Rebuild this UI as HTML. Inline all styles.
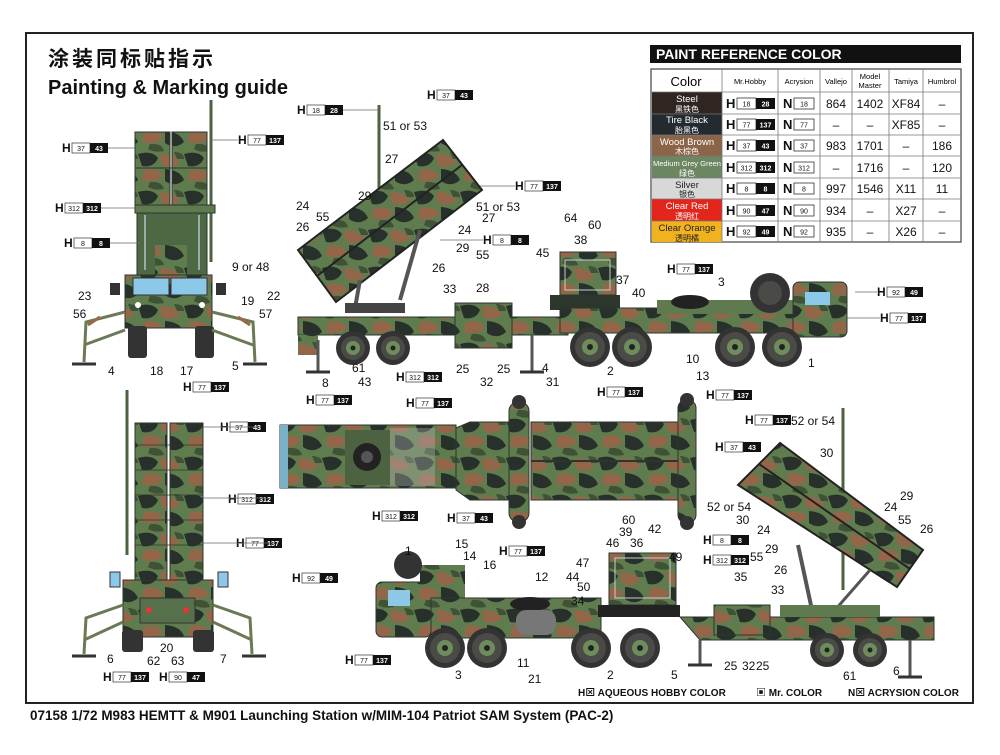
<!DOCTYPE html>
<html><head><meta charset="utf-8">
<style>
html,body{margin:0;padding:0;background:#fff}
body{width:1000px;height:750px;overflow:hidden;position:relative;font-family:"Liberation Sans","Noto Sans CJK SC",sans-serif}
svg text{font-family:"Liberation Sans","Noto Sans CJK SC",sans-serif}
.l{font-size:12px;fill:#111}
.hh{font-size:12px;font-weight:bold;fill:#111}
.s{font-size:7px;fill:#111;text-anchor:middle}
.sw{font-size:7px;fill:#fff;text-anchor:middle;font-weight:bold}
.ld{stroke:#666;stroke-width:0.8;fill:none}
</style></head><body>
<svg width="1000" height="750" viewBox="0 0 1000 750" xmlns="http://www.w3.org/2000/svg">
<defs>
<pattern id="camo" width="46" height="38" patternUnits="userSpaceOnUse">
<rect width="46" height="38" fill="#5f7c4e"/>
<path d="M0 2 Q14 -2 20 6 Q16 16 4 14 Z" fill="#27302a"/>
<path d="M22 2 Q36 2 42 10 Q34 18 24 13 Z" fill="#93664a"/>
<path d="M6 18 Q20 15 25 24 Q17 32 4 28 Z" fill="#93664a"/>
<path d="M27 17 Q42 18 46 28 Q37 36 27 29 Z" fill="#27302a"/>
<path d="M12 30 Q24 29 26 37 Q16 39 10 35 Z" fill="#3f5236"/>
<path d="M36 0 Q46 0 46 7 L39 7 Z" fill="#3f5236"/>
</pattern>
<g id="wh"><circle r="20" fill="#333"/><circle r="15" fill="#4a4a46"/><circle r="8" fill="#6f8c5c"/><circle r="3" fill="#222"/></g>
<g id="ws"><circle r="17" fill="#333"/><circle r="12" fill="#4a4a46"/><circle r="7" fill="#6f8c5c"/><circle r="2.5" fill="#222"/></g>
</defs>

<rect x="26" y="33" width="947" height="670" fill="none" stroke="#222" stroke-width="2"/>
<text x="48" y="66" style="font-size:21px;font-weight:bold;fill:#111;letter-spacing:3px">涂装同标贴指示</text>
<text x="48" y="94" style="font-size:20px;font-weight:bold;fill:#111">Painting &amp; Marking guide</text>

<rect x="650" y="45" width="311" height="18" fill="#111"/>
<text x="656" y="59" style="font-size:14px;font-weight:bold;fill:#fff">PAINT  REFERENCE COLOR</text>
<g font-size="12">
<rect x="651" y="69" width="310" height="173" fill="#fff" stroke="#444" stroke-width="1.2"/>
<rect x="652" y="92" width="70" height="22" fill="#2f2622"/>
<rect x="652" y="114" width="70" height="21" fill="#232a30"/>
<rect x="652" y="135" width="70" height="21" fill="#8c6548"/>
<rect x="652" y="156" width="70" height="22" fill="#6b8660"/>
<rect x="652" y="178" width="70" height="21" fill="#d8d8d8"/>
<rect x="652" y="199" width="70" height="22" fill="#e2261c"/>
<rect x="652" y="221" width="70" height="21" fill="#f0b21e"/>
<g stroke="#777" stroke-width="0.8">
<line x1="651" y1="92" x2="961" y2="92"/><line x1="651" y1="114" x2="961" y2="114"/><line x1="651" y1="135" x2="961" y2="135"/><line x1="651" y1="156" x2="961" y2="156"/><line x1="651" y1="178" x2="961" y2="178"/><line x1="651" y1="199" x2="961" y2="199"/><line x1="651" y1="221" x2="961" y2="221"/>
<line x1="722" y1="69" x2="722" y2="242"/><line x1="778" y1="69" x2="778" y2="242"/><line x1="820" y1="69" x2="820" y2="242"/><line x1="852" y1="69" x2="852" y2="242"/><line x1="889" y1="69" x2="889" y2="242"/><line x1="923" y1="69" x2="923" y2="242"/>
</g>
<text x="686" y="86" text-anchor="middle" style="font-size:13px">Color</text>
<text x="750" y="84" text-anchor="middle" style="font-size:7.5px">Mr.Hobby</text>
<text x="799" y="84" text-anchor="middle" style="font-size:7.5px">Acrysion</text>
<text x="836" y="84" text-anchor="middle" style="font-size:7.5px">Vallejo</text>
<text x="870" y="79" text-anchor="middle" style="font-size:7.5px">Model</text>
<text x="870" y="88" text-anchor="middle" style="font-size:7.5px">Master</text>
<text x="906" y="84" text-anchor="middle" style="font-size:7.5px">Tamiya</text>
<text x="942" y="84" text-anchor="middle" style="font-size:7.5px">Humbrol</text>
<g text-anchor="middle" style="font-size:9.5px" fill="#fff">
<text x="687" y="102">Steel</text><text x="687" y="112" style="font-size:8px">黑铁色</text>
<text x="687" y="123">Tire Black</text><text x="687" y="133" style="font-size:8px">胎黑色</text>
<text x="687" y="145">Wood Brown</text><text x="687" y="154" style="font-size:8px">木棕色</text>
<text x="687" y="166" style="font-size:7.5px">Medium Grey Green</text><text x="687" y="176" style="font-size:8px">绿色</text>
<text x="687" y="188" fill="#222">Silver</text><text x="687" y="197" fill="#222" style="font-size:8px">银色</text>
<text x="687" y="209">Clear Red</text><text x="687" y="219" style="font-size:8px">透明红</text>
<text x="687" y="231" fill="#222">Clear Orange</text><text x="687" y="241" fill="#222" style="font-size:8px">透明橘</text>
</g>
<g text-anchor="middle" style="font-size:12px" fill="#111">
<text x="836" y="108">864</text><text x="870" y="108">1402</text><text x="906" y="108">XF84</text><text x="942" y="108">–</text>
<text x="836" y="129">–</text><text x="870" y="129">–</text><text x="906" y="129">XF85</text><text x="942" y="129">–</text>
<text x="836" y="150">983</text><text x="870" y="150">1701</text><text x="906" y="150">–</text><text x="942" y="150">186</text>
<text x="836" y="172">–</text><text x="870" y="172">1716</text><text x="906" y="172">–</text><text x="942" y="172">120</text>
<text x="836" y="193">997</text><text x="870" y="193">1546</text><text x="906" y="193">X11</text><text x="942" y="193">11</text>
<text x="836" y="215">934</text><text x="870" y="215">–</text><text x="906" y="215">X27</text><text x="942" y="215">–</text>
<text x="836" y="236">935</text><text x="870" y="236">–</text><text x="906" y="236">X26</text><text x="942" y="236">–</text>
</g>
</g>
<g>
<g transform="translate(726,97)"><text x="0" y="11" class="hh" style="font-size:13px">H</text><rect x="11" y="1" width="19" height="11" fill="#fff" stroke="#333" stroke-width=".8"/><text x="20.5" y="9.5" class="s">18</text><rect x="30" y="1" width="19" height="11" fill="#111"/><text x="39.5" y="9.5" class="sw">28</text></g>
<g transform="translate(726,118)"><text x="0" y="11" class="hh" style="font-size:13px">H</text><rect x="11" y="1" width="19" height="11" fill="#fff" stroke="#333" stroke-width=".8"/><text x="20.5" y="9.5" class="s">77</text><rect x="30" y="1" width="19" height="11" fill="#111"/><text x="39.5" y="9.5" class="sw">137</text></g>
<g transform="translate(726,139)"><text x="0" y="11" class="hh" style="font-size:13px">H</text><rect x="11" y="1" width="19" height="11" fill="#fff" stroke="#333" stroke-width=".8"/><text x="20.5" y="9.5" class="s">37</text><rect x="30" y="1" width="19" height="11" fill="#111"/><text x="39.5" y="9.5" class="sw">43</text></g>
<g transform="translate(726,161)"><text x="0" y="11" class="hh" style="font-size:13px">H</text><rect x="11" y="1" width="19" height="11" fill="#fff" stroke="#333" stroke-width=".8"/><text x="20.5" y="9.5" class="s">312</text><rect x="30" y="1" width="19" height="11" fill="#111"/><text x="39.5" y="9.5" class="sw">312</text></g>
<g transform="translate(726,182)"><text x="0" y="11" class="hh" style="font-size:13px">H</text><rect x="11" y="1" width="19" height="11" fill="#fff" stroke="#333" stroke-width=".8"/><text x="20.5" y="9.5" class="s">8</text><rect x="30" y="1" width="19" height="11" fill="#111"/><text x="39.5" y="9.5" class="sw">8</text></g>
<g transform="translate(726,204)"><text x="0" y="11" class="hh" style="font-size:13px">H</text><rect x="11" y="1" width="19" height="11" fill="#fff" stroke="#333" stroke-width=".8"/><text x="20.5" y="9.5" class="s">90</text><rect x="30" y="1" width="19" height="11" fill="#111"/><text x="39.5" y="9.5" class="sw">47</text></g>
<g transform="translate(726,225)"><text x="0" y="11" class="hh" style="font-size:13px">H</text><rect x="11" y="1" width="19" height="11" fill="#fff" stroke="#333" stroke-width=".8"/><text x="20.5" y="9.5" class="s">92</text><rect x="30" y="1" width="19" height="11" fill="#111"/><text x="39.5" y="9.5" class="sw">49</text></g>
<g class="hh" style="font-size:13px">
<text x="783" y="108">N</text><text x="783" y="129">N</text><text x="783" y="150">N</text><text x="783" y="172">N</text><text x="783" y="193">N</text><text x="783" y="215">N</text><text x="783" y="236">N</text></g>
<g fill="#fff" stroke="#333" stroke-width=".8">
<rect x="794" y="98" width="20" height="11"/><rect x="794" y="119" width="20" height="11"/><rect x="794" y="140" width="20" height="11"/><rect x="794" y="162" width="20" height="11"/><rect x="794" y="183" width="20" height="11"/><rect x="794" y="205" width="20" height="11"/><rect x="794" y="226" width="20" height="11"/></g>
<g class="s"><text x="804" y="106.5">18</text><text x="804" y="127.5">77</text><text x="804" y="148.5">37</text><text x="804" y="170.5">312</text><text x="804" y="191.5">8</text><text x="804" y="213.5">90</text><text x="804" y="234.5">92</text></g>
</g>

<!-- FRONT VIEW -->
<line x1="211" y1="100" x2="211" y2="262" stroke="#4c6240" stroke-width="3"/>
<rect x="135" y="132" width="35" height="73" fill="url(#camo)" stroke="#2c362d"/>
<rect x="172" y="132" width="35" height="73" fill="url(#camo)" stroke="#2c362d"/>
<line x1="135" y1="168" x2="207" y2="168" stroke="#2c362d"/>
<rect x="135" y="205" width="80" height="8" fill="#5f7a4e" stroke="#2c362d"/>
<rect x="137" y="213" width="70" height="62" fill="#4f6844" stroke="#2c362d"/>
<rect x="155" y="245" width="32" height="30" fill="url(#camo)"/>
<line x1="145" y1="215" x2="145" y2="270" stroke="#9aa" stroke-width="2"/><line x1="199" y1="215" x2="199" y2="270" stroke="#9aa" stroke-width="2"/>
<rect x="125" y="275" width="87" height="53" fill="url(#camo)" stroke="#2c362d"/>
<rect x="133" y="278" width="36" height="17" fill="#8cc8e8" stroke="#333"/>
<rect x="171" y="278" width="36" height="17" fill="#8cc8e8" stroke="#333"/>
<rect x="110" y="283" width="10" height="12" fill="#333"/><rect x="216" y="283" width="10" height="12" fill="#333"/>
<circle cx="138" cy="305" r="3" fill="#fff"/><circle cx="202" cy="305" r="3" fill="#fff"/>
<rect x="128" y="326" width="19" height="32" rx="3" fill="#333"/><rect x="195" y="326" width="19" height="32" rx="3" fill="#333"/>
<g stroke="#6a7a55" stroke-width="3" fill="none">
<path d="M125 312 L86 322 L84 362"/><path d="M125 330 L84 345"/>
<path d="M212 312 L253 322 L255 362"/><path d="M212 330 L253 345"/>
</g>
<g stroke="#9a6a48" stroke-width="3"><line x1="100" y1="317" x2="88" y2="325"/><line x1="238" y1="317" x2="250" y2="325"/></g>
<line x1="72" y1="364" x2="96" y2="364" stroke="#333" stroke-width="3"/><line x1="243" y1="364" x2="267" y2="364" stroke="#333" stroke-width="3"/>

<!-- REAR VIEW -->
<line x1="127" y1="390" x2="127" y2="555" stroke="#4c6240" stroke-width="3"/>
<rect x="135" y="423" width="32" height="157" fill="url(#camo)" stroke="#2c362d"/>
<rect x="170" y="423" width="33" height="157" fill="url(#camo)" stroke="#2c362d"/>
<g stroke="#2c362d" stroke-width="0.8"><line x1="135" y1="445" x2="203" y2="445"/><line x1="135" y1="470" x2="203" y2="470"/><line x1="135" y1="495" x2="203" y2="495"/><line x1="135" y1="520" x2="203" y2="520"/><line x1="135" y1="545" x2="203" y2="545"/></g>
<rect x="110" y="572" width="10" height="15" fill="#8cc8e8" stroke="#333"/><rect x="218" y="572" width="10" height="15" fill="#8cc8e8" stroke="#333"/>
<rect x="123" y="580" width="90" height="57" fill="url(#camo)" stroke="#2c362d"/>
<rect x="140" y="598" width="55" height="25" fill="#55704a" stroke="#333"/>
<circle cx="149" cy="610" r="3" fill="#e33"/><circle cx="186" cy="610" r="3" fill="#e33"/>
<rect x="122" y="630" width="21" height="22" rx="3" fill="#333"/><rect x="193" y="630" width="21" height="22" rx="3" fill="#333"/>
<g stroke="#6a7a55" stroke-width="3" fill="none">
<path d="M123 605 L86 618 L84 654"/><path d="M123 622 L84 640"/>
<path d="M213 605 L250 618 L252 654"/><path d="M213 622 L252 640"/>
</g>
<line x1="72" y1="656" x2="96" y2="656" stroke="#333" stroke-width="3"/><line x1="242" y1="656" x2="266" y2="656" stroke="#333" stroke-width="3"/>

<!-- SIDE VIEW TOP -->
<line x1="379" y1="105" x2="379" y2="260" stroke="#4c6240" stroke-width="3"/>
<polygon points="298,250 443,140 482,190 336,302" fill="url(#camo)" stroke="#222" stroke-width="2"/>
<line x1="317" y1="276" x2="462" y2="165" stroke="#222" stroke-width="2"/>
<line x1="400" y1="300" x2="420" y2="230" stroke="#555" stroke-width="4"/>
<line x1="355" y1="308" x2="360" y2="280" stroke="#555" stroke-width="4"/>
<rect x="345" y="303" width="60" height="10" fill="#444"/>
<rect x="298" y="317" width="270" height="18" fill="url(#camo)" stroke="#2c362d"/>
<rect x="298" y="335" width="20" height="20" fill="url(#camo)"/>
<rect x="455" y="303" width="57" height="45" fill="url(#camo)" stroke="#2c362d"/>
<line x1="318" y1="340" x2="318" y2="372" stroke="#555" stroke-width="3"/><line x1="306" y1="372" x2="330" y2="372" stroke="#333" stroke-width="3"/>
<line x1="532" y1="335" x2="532" y2="372" stroke="#555" stroke-width="3"/><line x1="520" y1="372" x2="544" y2="372" stroke="#333" stroke-width="3"/>
<use href="#ws" x="353" y="348"/><use href="#ws" x="393" y="348"/>
<rect x="550" y="295" width="70" height="15" fill="#2c362d"/>
<rect x="560" y="252" width="56" height="43" fill="url(#camo)" stroke="#2c362d"/>
<rect x="565" y="260" width="45" height="30" fill="none" stroke="#ccc" stroke-width="1"/>
<rect x="560" y="308" width="240" height="25" fill="url(#camo)" stroke="#2c362d"/>
<rect x="657" y="300" width="140" height="14" fill="#5f7a4e"/>
<ellipse cx="690" cy="302" rx="19" ry="7" fill="#222"/>
<rect x="793" y="282" width="54" height="55" rx="6" fill="url(#camo)" stroke="#2c362d"/>
<rect x="805" y="292" width="25" height="13" fill="#8cc8e8"/>
<circle cx="770" cy="293" r="20" fill="#333"/><circle cx="770" cy="293" r="12" fill="#4a4a46"/>
<use href="#wh" x="590" y="347"/><use href="#wh" x="632" y="347"/><use href="#wh" x="735" y="347"/><use href="#wh" x="782" y="347"/>

<!-- TOP VIEW -->
<rect x="280" y="425" width="176" height="63" fill="url(#camo)" stroke="#2c362d"/>
<rect x="280" y="425" width="8" height="63" fill="#7ab0c8"/>
<rect x="345" y="430" width="45" height="55" fill="#4c6240"/>
<circle cx="367" cy="457" r="14" fill="#222"/><circle cx="367" cy="457" r="6" fill="#555"/>
<rect x="390" y="428" width="45" height="58" fill="#bbb" opacity=".35"/>
<polygon points="456,428 470,422 509,422 509,500 470,500 456,490" fill="url(#camo)" stroke="#2c362d"/>
<rect x="509" y="402" width="20" height="120" rx="9" fill="url(#camo)" stroke="#2c362d"/>
<circle cx="519" cy="402" r="7" fill="#333"/><circle cx="519" cy="522" r="7" fill="#333"/>
<rect x="531" y="422" width="147" height="78" fill="url(#camo)" stroke="#2c362d"/>
<line x1="531" y1="461" x2="678" y2="461" stroke="#2c362d" stroke-width="2"/>
<rect x="678" y="400" width="18" height="123" rx="8" fill="url(#camo)" stroke="#2c362d"/>
<circle cx="687" cy="400" r="7" fill="#333"/><circle cx="687" cy="523" r="7" fill="#333"/>

<!-- SIDE VIEW BOTTOM -->
<line x1="843" y1="408" x2="843" y2="590" stroke="#4c6240" stroke-width="3"/>
<polygon points="738,485 780,443 923,550 897,587" fill="url(#camo)" stroke="#222" stroke-width="2"/>
<line x1="759" y1="464" x2="910" y2="569" stroke="#222" stroke-width="2"/>
<line x1="812" y1="610" x2="798" y2="545" stroke="#555" stroke-width="4"/>
<line x1="835" y1="610" x2="870" y2="570" stroke="#555" stroke-width="3"/>
<rect x="376" y="582" width="55" height="55" rx="6" fill="url(#camo)" stroke="#2c362d"/>
<rect x="388" y="590" width="22" height="16" fill="#8cc8e8"/>
<rect x="420" y="565" width="45" height="45" fill="url(#camo)"/>
<circle cx="408" cy="565" r="14" fill="#333"/>
<rect x="431" y="598" width="170" height="40" fill="url(#camo)" stroke="#2c362d"/>
<ellipse cx="530" cy="604" rx="20" ry="7" fill="#222"/>
<rect x="516" y="610" width="40" height="25" rx="10" fill="#777"/>
<rect x="609" y="553" width="67" height="52" fill="url(#camo)" stroke="#2c362d"/>
<rect x="615" y="558" width="55" height="40" fill="none" stroke="#ccc"/>
<rect x="598" y="605" width="82" height="12" fill="#222"/>
<polygon points="680,617 934,617 934,640 700,640" fill="url(#camo)" stroke="#2c362d"/>
<rect x="714" y="605" width="56" height="30" fill="url(#camo)" stroke="#2c362d"/>
<rect x="780" y="605" width="100" height="12" fill="#5f7a4e"/>
<line x1="700" y1="640" x2="700" y2="665" stroke="#555" stroke-width="3"/><line x1="688" y1="665" x2="712" y2="665" stroke="#333" stroke-width="3"/>
<line x1="910" y1="640" x2="910" y2="677" stroke="#555" stroke-width="3"/><line x1="898" y1="677" x2="922" y2="677" stroke="#333" stroke-width="3"/>
<use href="#wh" x="445" y="648"/><use href="#wh" x="487" y="648"/><use href="#wh" x="591" y="648"/><use href="#wh" x="640" y="648"/>
<use href="#ws" x="827" y="650"/><use href="#ws" x="870" y="650"/>

<!-- H codes -->
<g>
<g transform="translate(62,142)"><text x="0" y="10" class="hh">H</text><rect x="10" y="1" width="18" height="10" fill="#fff" stroke="#333" stroke-width=".7"/><text x="19" y="9" class="s">37</text><rect x="28" y="1" width="18" height="10" fill="#111"/><text x="37" y="9" class="sw">43</text></g>
<g transform="translate(238,134)"><text x="0" y="10" class="hh">H</text><rect x="10" y="1" width="18" height="10" fill="#fff" stroke="#333" stroke-width=".7"/><text x="19" y="9" class="s">77</text><rect x="28" y="1" width="18" height="10" fill="#111"/><text x="37" y="9" class="sw">137</text></g>
<g transform="translate(55,202)"><text x="0" y="10" class="hh">H</text><rect x="10" y="1" width="18" height="10" fill="#fff" stroke="#333" stroke-width=".7"/><text x="19" y="9" class="s">312</text><rect x="28" y="1" width="18" height="10" fill="#111"/><text x="37" y="9" class="sw">312</text></g>
<g transform="translate(64,237)"><text x="0" y="10" class="hh">H</text><rect x="10" y="1" width="18" height="10" fill="#fff" stroke="#333" stroke-width=".7"/><text x="19" y="9" class="s">8</text><rect x="28" y="1" width="18" height="10" fill="#111"/><text x="37" y="9" class="sw">8</text></g>
<g transform="translate(183,381)"><text x="0" y="10" class="hh">H</text><rect x="10" y="1" width="18" height="10" fill="#fff" stroke="#333" stroke-width=".7"/><text x="19" y="9" class="s">77</text><rect x="28" y="1" width="18" height="10" fill="#111"/><text x="37" y="9" class="sw">137</text></g>
<g transform="translate(297,104)"><text x="0" y="10" class="hh">H</text><rect x="10" y="1" width="18" height="10" fill="#fff" stroke="#333" stroke-width=".7"/><text x="19" y="9" class="s">18</text><rect x="28" y="1" width="18" height="10" fill="#111"/><text x="37" y="9" class="sw">28</text></g>
<g transform="translate(427,89)"><text x="0" y="10" class="hh">H</text><rect x="10" y="1" width="18" height="10" fill="#fff" stroke="#333" stroke-width=".7"/><text x="19" y="9" class="s">37</text><rect x="28" y="1" width="18" height="10" fill="#111"/><text x="37" y="9" class="sw">43</text></g>
<g transform="translate(515,180)"><text x="0" y="10" class="hh">H</text><rect x="10" y="1" width="18" height="10" fill="#fff" stroke="#333" stroke-width=".7"/><text x="19" y="9" class="s">77</text><rect x="28" y="1" width="18" height="10" fill="#111"/><text x="37" y="9" class="sw">137</text></g>
<g transform="translate(483,234)"><text x="0" y="10" class="hh">H</text><rect x="10" y="1" width="18" height="10" fill="#fff" stroke="#333" stroke-width=".7"/><text x="19" y="9" class="s">8</text><rect x="28" y="1" width="18" height="10" fill="#111"/><text x="37" y="9" class="sw">8</text></g>
<g transform="translate(667,263)"><text x="0" y="10" class="hh">H</text><rect x="10" y="1" width="18" height="10" fill="#fff" stroke="#333" stroke-width=".7"/><text x="19" y="9" class="s">77</text><rect x="28" y="1" width="18" height="10" fill="#111"/><text x="37" y="9" class="sw">137</text></g>
<g transform="translate(877,286)"><text x="0" y="10" class="hh">H</text><rect x="10" y="1" width="18" height="10" fill="#fff" stroke="#333" stroke-width=".7"/><text x="19" y="9" class="s">92</text><rect x="28" y="1" width="18" height="10" fill="#111"/><text x="37" y="9" class="sw">49</text></g>
<g transform="translate(880,312)"><text x="0" y="10" class="hh">H</text><rect x="10" y="1" width="18" height="10" fill="#fff" stroke="#333" stroke-width=".7"/><text x="19" y="9" class="s">77</text><rect x="28" y="1" width="18" height="10" fill="#111"/><text x="37" y="9" class="sw">137</text></g>
<g transform="translate(396,371)"><text x="0" y="10" class="hh">H</text><rect x="10" y="1" width="18" height="10" fill="#fff" stroke="#333" stroke-width=".7"/><text x="19" y="9" class="s">312</text><rect x="28" y="1" width="18" height="10" fill="#111"/><text x="37" y="9" class="sw">312</text></g>
<g transform="translate(706,389)"><text x="0" y="10" class="hh">H</text><rect x="10" y="1" width="18" height="10" fill="#fff" stroke="#333" stroke-width=".7"/><text x="19" y="9" class="s">77</text><rect x="28" y="1" width="18" height="10" fill="#111"/><text x="37" y="9" class="sw">137</text></g>
<g transform="translate(306,394)"><text x="0" y="10" class="hh">H</text><rect x="10" y="1" width="18" height="10" fill="#fff" stroke="#333" stroke-width=".7"/><text x="19" y="9" class="s">77</text><rect x="28" y="1" width="18" height="10" fill="#111"/><text x="37" y="9" class="sw">137</text></g>
<g transform="translate(406,397)"><text x="0" y="10" class="hh">H</text><rect x="10" y="1" width="18" height="10" fill="#fff" stroke="#333" stroke-width=".7"/><text x="19" y="9" class="s">77</text><rect x="28" y="1" width="18" height="10" fill="#111"/><text x="37" y="9" class="sw">137</text></g>
<g transform="translate(597,386)"><text x="0" y="10" class="hh">H</text><rect x="10" y="1" width="18" height="10" fill="#fff" stroke="#333" stroke-width=".7"/><text x="19" y="9" class="s">77</text><rect x="28" y="1" width="18" height="10" fill="#111"/><text x="37" y="9" class="sw">137</text></g>
<g transform="translate(220,421)"><text x="0" y="10" class="hh">H</text><rect x="10" y="1" width="18" height="10" fill="#fff" stroke="#333" stroke-width=".7"/><text x="19" y="9" class="s">37</text><rect x="28" y="1" width="18" height="10" fill="#111"/><text x="37" y="9" class="sw">43</text></g>
<g transform="translate(228,493)"><text x="0" y="10" class="hh">H</text><rect x="10" y="1" width="18" height="10" fill="#fff" stroke="#333" stroke-width=".7"/><text x="19" y="9" class="s">312</text><rect x="28" y="1" width="18" height="10" fill="#111"/><text x="37" y="9" class="sw">312</text></g>
<g transform="translate(236,537)"><text x="0" y="10" class="hh">H</text><rect x="10" y="1" width="18" height="10" fill="#fff" stroke="#333" stroke-width=".7"/><text x="19" y="9" class="s">77</text><rect x="28" y="1" width="18" height="10" fill="#111"/><text x="37" y="9" class="sw">137</text></g>
<g transform="translate(372,510)"><text x="0" y="10" class="hh">H</text><rect x="10" y="1" width="18" height="10" fill="#fff" stroke="#333" stroke-width=".7"/><text x="19" y="9" class="s">312</text><rect x="28" y="1" width="18" height="10" fill="#111"/><text x="37" y="9" class="sw">312</text></g>
<g transform="translate(447,512)"><text x="0" y="10" class="hh">H</text><rect x="10" y="1" width="18" height="10" fill="#fff" stroke="#333" stroke-width=".7"/><text x="19" y="9" class="s">37</text><rect x="28" y="1" width="18" height="10" fill="#111"/><text x="37" y="9" class="sw">43</text></g>
<g transform="translate(745,414)"><text x="0" y="10" class="hh">H</text><rect x="10" y="1" width="18" height="10" fill="#fff" stroke="#333" stroke-width=".7"/><text x="19" y="9" class="s">77</text><rect x="28" y="1" width="18" height="10" fill="#111"/><text x="37" y="9" class="sw">137</text></g>
<g transform="translate(715,441)"><text x="0" y="10" class="hh">H</text><rect x="10" y="1" width="18" height="10" fill="#fff" stroke="#333" stroke-width=".7"/><text x="19" y="9" class="s">37</text><rect x="28" y="1" width="18" height="10" fill="#111"/><text x="37" y="9" class="sw">43</text></g>
<g transform="translate(703,534)"><text x="0" y="10" class="hh">H</text><rect x="10" y="1" width="18" height="10" fill="#fff" stroke="#333" stroke-width=".7"/><text x="19" y="9" class="s">8</text><rect x="28" y="1" width="18" height="10" fill="#111"/><text x="37" y="9" class="sw">8</text></g>
<g transform="translate(703,554)"><text x="0" y="10" class="hh">H</text><rect x="10" y="1" width="18" height="10" fill="#fff" stroke="#333" stroke-width=".7"/><text x="19" y="9" class="s">312</text><rect x="28" y="1" width="18" height="10" fill="#111"/><text x="37" y="9" class="sw">312</text></g>
<g transform="translate(499,545)"><text x="0" y="10" class="hh">H</text><rect x="10" y="1" width="18" height="10" fill="#fff" stroke="#333" stroke-width=".7"/><text x="19" y="9" class="s">77</text><rect x="28" y="1" width="18" height="10" fill="#111"/><text x="37" y="9" class="sw">137</text></g>
<g transform="translate(292,572)"><text x="0" y="10" class="hh">H</text><rect x="10" y="1" width="18" height="10" fill="#fff" stroke="#333" stroke-width=".7"/><text x="19" y="9" class="s">92</text><rect x="28" y="1" width="18" height="10" fill="#111"/><text x="37" y="9" class="sw">49</text></g>
<g transform="translate(345,654)"><text x="0" y="10" class="hh">H</text><rect x="10" y="1" width="18" height="10" fill="#fff" stroke="#333" stroke-width=".7"/><text x="19" y="9" class="s">77</text><rect x="28" y="1" width="18" height="10" fill="#111"/><text x="37" y="9" class="sw">137</text></g>
<g transform="translate(103,671)"><text x="0" y="10" class="hh">H</text><rect x="10" y="1" width="18" height="10" fill="#fff" stroke="#333" stroke-width=".7"/><text x="19" y="9" class="s">77</text><rect x="28" y="1" width="18" height="10" fill="#111"/><text x="37" y="9" class="sw">137</text></g>
<g transform="translate(159,671)"><text x="0" y="10" class="hh">H</text><rect x="10" y="1" width="18" height="10" fill="#fff" stroke="#333" stroke-width=".7"/><text x="19" y="9" class="s">90</text><rect x="28" y="1" width="18" height="10" fill="#111"/><text x="37" y="9" class="sw">47</text></g>
</g>

<g class="ld">
<line x1="108" y1="148" x2="135" y2="148"/><line x1="211" y1="140" x2="238" y2="140"/><line x1="101" y1="208" x2="135" y2="208"/><line x1="110" y1="243" x2="140" y2="243"/>
<line x1="343" y1="110" x2="379" y2="110"/><line x1="480" y1="186" x2="515" y2="186"/><line x1="440" y1="240" x2="483" y2="240"/>
<line x1="266" y1="498" x2="203" y2="498"/><line x1="274" y1="543" x2="203" y2="543"/><line x1="258" y1="427" x2="203" y2="427"/>
<line x1="855" y1="292" x2="877" y2="292"/><line x1="847" y1="318" x2="880" y2="318"/>
</g>

<g class="l">
<text x="232" y="271">9 or 48</text><text x="78" y="300">23</text><text x="267" y="300">22</text><text x="241" y="305">19</text><text x="73" y="318">56</text><text x="259" y="318">57</text>
<text x="108" y="375">4</text><text x="150" y="375">18</text><text x="180" y="375">17</text><text x="232" y="370">5</text>
<text x="383" y="130">51 or 53</text><text x="385" y="163">27</text><text x="358" y="200">29</text><text x="296" y="210">24</text><text x="316" y="221">55</text><text x="296" y="231">26</text>
<text x="476" y="211">51 or 53</text><text x="482" y="222">27</text><text x="458" y="234">24</text><text x="456" y="252">29</text><text x="476" y="259">55</text><text x="432" y="272">26</text><text x="443" y="293">33</text>
<text x="476" y="292">28</text><text x="564" y="222">64</text><text x="574" y="244">38</text><text x="588" y="229">60</text><text x="536" y="257">45</text><text x="616" y="284">37</text><text x="632" y="297">40</text>
<text x="718" y="286">3</text><text x="808" y="367">1</text><text x="686" y="363">10</text><text x="696" y="380">13</text><text x="607" y="375">2</text>
<text x="322" y="387">8</text><text x="352" y="372">61</text><text x="358" y="386">43</text><text x="456" y="373">25</text><text x="480" y="386">32</text><text x="497" y="373">25</text><text x="542" y="372">4</text><text x="546" y="386">31</text>
<text x="791" y="425">52 or 54</text><text x="820" y="457">30</text><text x="900" y="500">29</text><text x="884" y="511">24</text><text x="898" y="524">55</text><text x="920" y="533">26</text>
<text x="707" y="511">52 or 54</text><text x="736" y="524">30</text><text x="757" y="534">24</text><text x="765" y="553">29</text><text x="750" y="561">55</text><text x="774" y="574">26</text><text x="771" y="594">33</text><text x="734" y="581">35</text>
<text x="724" y="670">25</text><text x="742" y="670">32</text><text x="756" y="670">25</text><text x="843" y="680">61</text><text x="893" y="675">6</text>
<text x="405" y="555">1</text><text x="455" y="548">15</text><text x="463" y="560">14</text><text x="483" y="569">16</text><text x="535" y="581">12</text><text x="576" y="567">47</text><text x="566" y="581">44</text><text x="577" y="591">50</text><text x="571" y="605">34</text>
<text x="606" y="547">46</text><text x="619" y="536">39</text><text x="630" y="547">36</text><text x="622" y="524">60</text><text x="648" y="533">42</text><text x="669" y="561">49</text>
<text x="455" y="679">3</text><text x="517" y="667">11</text><text x="528" y="683">21</text><text x="607" y="679">2</text><text x="671" y="679">5</text>
<text x="107" y="663">6</text><text x="147" y="665">62</text><text x="160" y="652">20</text><text x="171" y="665">63</text><text x="220" y="663">7</text>
</g>

<g style="font-size:10px;font-weight:bold;fill:#111">
<text x="578" y="696">H⊠ AQUEOUS HOBBY COLOR</text>
<text x="756" y="696">▣ Mr. COLOR</text>
<text x="848" y="696">N⊠ ACRYSION COLOR</text>
</g>
<text x="30" y="720" style="font-size:13.5px;font-weight:bold;fill:#111">07158 1/72 M983 HEMTT &amp; M901 Launching Station w/MIM-104 Patriot SAM System (PAC-2)</text>
</svg>
</body></html>
